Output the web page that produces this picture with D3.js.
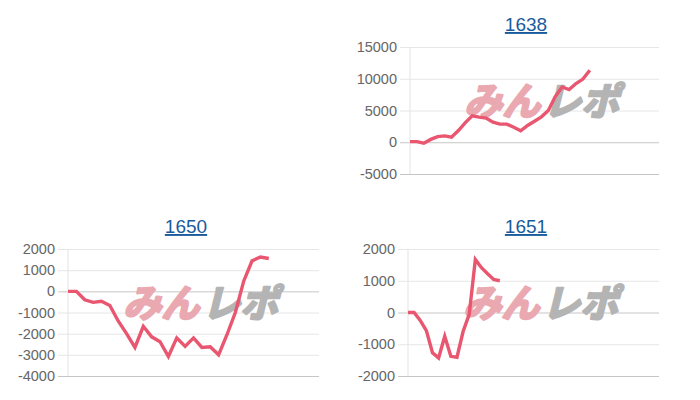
<!DOCTYPE html>
<html>
<head>
<meta charset="utf-8">
<title>みんレポ</title>
<script src="https://cdn.jsdelivr.net/npm/d3@7"></script>
<style>
  body { margin: 0; background: #fff; }
</style>
</head>
<body>
<script>
  // data
  var titles = ["1638", "1650", "1651"];

  var values1638 = [100, 100, -150, 450, 880, 1000, 800, 1850, 3100, 4150, 3950, 3800, 3150, 2850,
    2850, 2350, 1800, 2650, 3300, 4000, 5000, 7200, 8700, 8300, 9250, 9950, 11350];
  var values1650 = [0, 0, -400, -520, -470, -670, -1400, -2000, -2650, -1650, -2150, -2380, -3080,
    -2200, -2600, -2200, -2650, -2620, -3000, -2050, -1000, 480, 1440, 1620, 1550];
  var values1651 = [0, 0, -250, -570, -1270, -1430, -750, -1380, -1410, -600, -60, 1670, 1410,
    1220, 1040, 1000];

  // number of x categories on each axis (the line only fills part of it)
  var slots = [37, 31, 42];

  var ticks1638 = [-5000, 0, 5000, 10000, 15000];
  var ticks1650 = [-4000, -3000, -2000, -1000, 0, 1000, 2000];
  var ticks1651 = [-2000, -1000, 0, 1000, 2000];

  var series = [values1638, values1650, values1651];
  var tickSets = [ticks1638, ticks1650, ticks1651];

  // layout of the three panels
  var panels = [
    { left: 410, right: 659, top: 47, bottom: 174, titleX: 526, titleY: 31 },
    { left: 68, right: 319, top: 249, bottom: 376, titleX: 186, titleY: 233 },
    { left: 408, right: 659, top: 249, bottom: 376, titleX: 526, titleY: 233 }
  ];

  var width = 700;
  var height = 400;
  var lineColor = "#e8566f";

  var svg = d3.select("body")
    .append("svg")
    .attr("width", width)
    .attr("height", height)
    .style("font-family", "'Liberation Sans', Arial, sans-serif");

  panels.forEach(function(p, i) {
    var ticks = tickSets[i];
    var data = series[i];

    var x = d3.scaleLinear()
      .domain([0, slots[i] - 1])
      .range([p.left, p.right]);

    var y = d3.scaleLinear()
      .domain(d3.extent(ticks))
      .range([p.bottom, p.top]);

    var g = svg.append("g");

    // title (a link in the original page)
    g.append("text")
      .attr("x", p.titleX)
      .attr("y", p.titleY)
      .attr("text-anchor", "middle")
      .style("font-size", "19px")
      .style("fill", "#1a5b9c")
      .style("text-decoration", "underline")
      .text(titles[i]);

    // horizontal grid with 10px tick marks on the left
    var yAxis = d3.axisLeft(y)
      .tickValues(ticks)
      .tickSize(-(p.right - p.left) - 10)
      .tickPadding(3)
      .tickFormat(function(d) { return String(d); });

    var ga = g.append("g")
      .attr("transform", "translate(" + (p.left - 10) + ",0)")
      .call(yAxis);

    ga.select(".domain").remove();
    ga.selectAll(".tick line")
      .attr("x1", 0)
      .attr("x2", p.right - p.left + 10)
      .style("stroke", function(d) {
        return (d === 0 || d === ticks[0]) ? "#c6c6c6" : "#e6e6e6";
      });
    ga.selectAll(".tick text")
      .attr("x", -3)
      .style("font-size", "14.5px")
      .style("fill", "#666");

    // left axis line
    g.append("line")
      .attr("x1", p.left).attr("x2", p.left)
      .attr("y1", p.top).attr("y2", p.bottom)
      .style("stroke", "#e3e3e3");

    // watermark
    var cx = (p.left + p.right) / 2 + 9;
    var cy = (p.top + p.bottom) / 2 - 9;
    var wm = g.append("g")
      .attr("transform", "translate(" + cx + "," + cy + ") skewX(-14)")
      .style("font-family", "'Noto Sans CJK JP', sans-serif")
      .style("font-weight", "bold")
      .style("font-size", "38px")
      .style("stroke-width", 2.5)
      .style("stroke-linejoin", "round");
    wm.append("text")
      .attr("x", 0)
      .attr("y", 13)
      .attr("text-anchor", "end")
      .style("fill", "#eaa9b1")
      .style("stroke", "#eaa9b1")
      .text("みん");
    wm.append("text")
      .attr("x", 3)
      .attr("y", 13)
      .attr("text-anchor", "start")
      .style("fill", "#b4b4b4")
      .style("stroke", "#b4b4b4")
      .text("レポ");

    // the line
    var line = d3.line()
      .x(function(d, j) { return x(j); })
      .y(function(d) { return y(d); });

    g.append("path")
      .datum(data)
      .attr("d", line)
      .style("fill", "none")
      .style("stroke", lineColor)
      .style("stroke-width", 3.4)
      .style("stroke-linejoin", "miter");
  });
</script>
</body>
</html>
